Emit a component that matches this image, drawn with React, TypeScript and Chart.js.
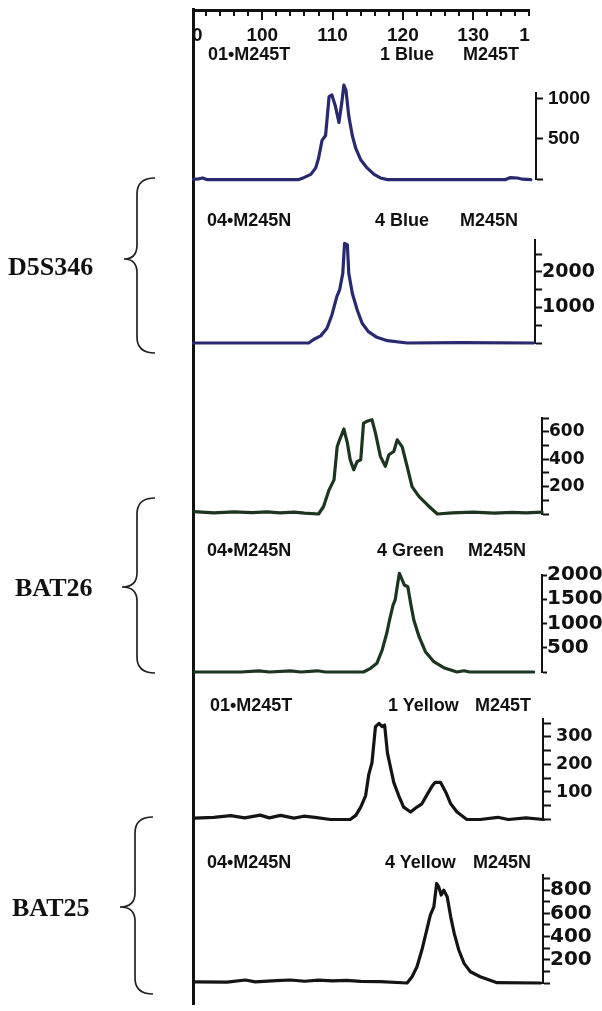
import React, { useEffect, useRef } from 'react';
import { Chart, registerables } from 'chart.js';

Chart.register(...registerables);

// ---------------- data ----------------
const sizeAxisMin = 90;
const sizeAxisMax = 140;
const sizeMinorStep = 2;
const sizeMajorStep = 10;

// D5S346 tumour (1 Blue)
const blueTumorSize = [90.2, 91.0, 91.5, 92.1, 105.2, 105.9, 106.9, 107.6, 108.0, 108.5, 109.0, 109.5, 109.9, 110.4, 110.9, 111.3, 111.6, 111.9, 112.3, 112.8, 113.3, 114.0, 114.9, 115.9, 116.8, 117.8, 134.6, 135.3, 136.3, 137.0, 138.2];
const blueTumorRfu = [5, 10, 20, 0, 0, 24, 64, 144, 263, 483, 543, 1022, 1042, 902, 703, 942, 1162, 1102, 782, 543, 383, 243, 144, 64, 20, 0, 0, 25, 20, 5, 0];

// D5S346 normal (4 Blue)
const blueNormalSize = [90.2, 106.6, 107.3, 108.3, 109.2, 109.9, 110.6, 111.0, 111.45, 111.7, 112.1, 112.3, 112.8, 113.5, 114.2, 115.1, 116.3, 117.8, 120.6, 128.0, 138.6];
const blueNormalRfu = [0, 0, 100, 200, 414, 790, 1305, 1493, 1963, 2808, 2760, 1963, 1400, 930, 555, 318, 160, 65, 0, 10, 0];

// BAT26 tumour (green)
const greenTumorSize = [90.3, 93.1, 96.0, 98.5, 100.7, 102.5, 104.5, 106.0, 108.0, 108.7, 109.5, 110.2, 110.65, 111.0, 111.6, 112.1, 112.5, 113.0, 113.5, 114.0, 114.4, 114.9, 115.6, 116.1, 116.8, 117.5, 118.0, 118.7, 119.2, 119.9, 120.6, 121.3, 122.3, 123.5, 124.9, 127.0, 130.0, 133.0, 135.5, 137.5, 139.8];
const greenTumorRfu = [18, 8, 15, 10, 16, 8, 14, 6, 0, 53, 176, 249, 490, 541, 620, 518, 395, 322, 383, 395, 663, 676, 688, 590, 420, 347, 432, 456, 541, 490, 347, 200, 127, 66, 0, 8, 14, 6, 12, 8, 14];

// BAT26 normal (4 Green)
const greenNormalSize = [90.3, 97.0, 99.5, 101.0, 104.0, 105.5, 107.8, 109.0, 114.4, 115.4, 116.3, 117.05, 117.7, 118.1, 118.6, 118.9, 119.3, 119.5, 119.9, 120.2, 120.7, 121.1, 121.55, 122.3, 123.2, 124.4, 125.8, 127.7, 128.7, 129.5, 138.6];
const greenNormalRfu = [0, 0, 25, 0, 25, 0, 25, 0, 0, 76, 179, 454, 798, 1072, 1381, 1485, 1862, 2035, 1897, 1794, 1759, 1416, 1072, 728, 419, 212, 89, 0, 25, 0, 0];

// BAT25 tumour (1 Yellow)
const yellowTumorSize = [90.3, 93.1, 95.5, 97.5, 99.7, 101.0, 102.6, 104.5, 105.9, 107.5, 109.7, 112.5, 113.3, 114.0, 114.7, 115.15, 115.6, 116.1, 116.6, 117.05, 117.4, 117.8, 118.2, 118.7, 119.4, 120.1, 121.1, 122.0, 122.7, 123.5, 124.2, 124.6, 125.35, 126.1, 126.8, 127.7, 129.1, 131.0, 133.5, 135.0, 137.5, 140.0];
const yellowTumorRfu = [5, 8, 14, 6, 16, 6, 15, 5, 12, 8, 0, 0, 15, 45, 87, 164, 206, 337, 349, 337, 343, 242, 194, 135, 87, 45, 27, 45, 57, 93, 123, 135, 135, 99, 57, 27, 0, 0, 8, 0, 6, 0];

// BAT25 normal (4 Yellow)
const yellowNormalSize = [90.3, 95.0, 97.6, 99.0, 102.0, 104.0, 106.0, 108.0, 110.0, 112.0, 114.0, 116.8, 120.6, 121.3, 122.0, 122.7, 123.5, 123.9, 124.4, 124.8, 125.1, 125.45, 125.8, 126.3, 126.8, 127.3, 127.95, 128.7, 129.6, 131.0, 133.4, 139.6];
const yellowNormalRfu = [10, 8, 26, 10, 20, 26, 15, 24, 18, 22, 14, 11, 0, 54, 140, 284, 484, 585, 656, 857, 828, 757, 800, 742, 570, 427, 284, 169, 97, 54, 3, 0];

const markerNames = ['D5S346', 'BAT26', 'BAT25'];

// ---------------- layout / style ----------------
const PAGE_W = 602;
const PAGE_H = 1011;
const X0 = 192;
const PX_PER_BP = 7.03;
const BLUE = '#28296e';
const GREEN = '#1c351e';
const BLACK = '#141414';
const INK = '#111';
const SANS = "'Liberation Sans', Arial, Helvetica, sans-serif";
const DEJAVU = "'DejaVu Sans', 'Liberation Sans', sans-serif";

type PanelCfg = {
  xs: number[];
  ys: number[];
  color: string;
  top: number;
  base: number;
  yMax: number;
  minorStep: number;
  majorStep: number;
  axisX: number;
  fontFamily: string;
  fontSize: number;
  tickLen: number;
  labelPad: number;
  header?: { texts: string[]; xs: number[]; y: number };
};

const panels: PanelCfg[] = [
  { xs: blueTumorSize, ys: blueTumorRfu, color: BLUE, top: 93, base: 182, yMax: 1066, minorStep: 500, majorStep: 500, axisX: 536, fontFamily: SANS, fontSize: 19, tickLen: 7, labelPad: 5,
    header: { texts: ['01•M245T', '1 Blue', 'M245T'], xs: [208, 380, 463], y: 54 } },
  { xs: blueNormalSize, ys: blueNormalRfu, color: BLUE, top: 240, base: 343, yMax: 2900, minorStep: 500, majorStep: 1000, axisX: 535, fontFamily: DEJAVU, fontSize: 19, tickLen: 7, labelPad: 0,
    header: { texts: ['04•M245N', '4 Blue', 'M245N'], xs: [207, 375, 460], y: 220 } },
  { xs: greenTumorSize, ys: greenTumorRfu, color: GREEN, top: 418, base: 514, yMax: 700, minorStep: 100, majorStep: 200, axisX: 542, fontFamily: DEJAVU, fontSize: 17, tickLen: 7, labelPad: 0 },
  { xs: greenNormalSize, ys: greenNormalRfu, color: GREEN, top: 575, base: 672, yMax: 2000, minorStep: 500, majorStep: 500, axisX: 542, fontFamily: DEJAVU, fontSize: 20, tickLen: 5, labelPad: 0,
    header: { texts: ['04•M245N', '4 Green', 'M245N'], xs: [207, 377, 468], y: 550 } },
  { xs: yellowTumorSize, ys: yellowTumorRfu, color: BLACK, top: 719, base: 821, yMax: 365, minorStep: 50, majorStep: 100, axisX: 543, fontFamily: DEJAVU, fontSize: 17.5, tickLen: 8, labelPad: 5,
    header: { texts: ['01•M245T', '1 Yellow', 'M245T'], xs: [210, 388, 475], y: 705 } },
  { xs: yellowNormalSize, ys: yellowNormalRfu, color: BLACK, top: 875, base: 983, yMax: 930, minorStep: 100, majorStep: 200, axisX: 543, fontFamily: DEJAVU, fontSize: 20, tickLen: 7, labelPad: 0,
    header: { texts: ['04•M245N', '4 Yellow', 'M245N'], xs: [207, 385, 473], y: 862 } },
];

const markerLayout = [
  { labelX: 8, labelY: 267, tipX: 124, midX: 137, endX: 155, yTop: 178, yTip: 259, yBot: 353 },
  { labelX: 15, labelY: 588, tipX: 122, midX: 137, endX: 155, yTop: 498, yTip: 587, yBot: 673 },
  { labelX: 12, labelY: 908, tipX: 120, midX: 135, endX: 153, yTop: 817, yTip: 907, yBot: 994 },
];

function bracePath(b: { tipX: number; midX: number; endX: number; yTop: number; yTip: number; yBot: number }) {
  const r = 16;
  const r2 = 14;
  return [
    `M ${b.endX} ${b.yTop}`,
    `Q ${b.midX} ${b.yTop} ${b.midX} ${b.yTop + r}`,
    `L ${b.midX} ${b.yTip - r2}`,
    `Q ${b.midX} ${b.yTip} ${b.tipX} ${b.yTip}`,
    `Q ${b.midX} ${b.yTip} ${b.midX} ${b.yTip + r2}`,
    `L ${b.midX} ${b.yBot - r}`,
    `Q ${b.midX} ${b.yBot} ${b.endX} ${b.yBot}`,
  ].join(' ');
}

function SizeAxis() {
  const ref = useRef<HTMLCanvasElement | null>(null);
  const canvasLeft = 150;
  const W = 452;
  const H = 50;
  useEffect(() => {
    const canvas = ref.current;
    if (!canvas) return;
    const areaRight = X0 + (sizeAxisMax - sizeAxisMin) * PX_PER_BP;
    const chart = new Chart(canvas, {
      type: 'scatter',
      data: { datasets: [] },
      options: {
        responsive: false,
        animation: false,
        layout: { padding: { left: X0 - canvasLeft, right: canvasLeft + W - areaRight, top: 10, bottom: 4 } },
        plugins: { legend: { display: false }, tooltip: { enabled: false } },
        scales: {
          x: {
            type: 'linear',
            position: 'bottom',
            min: sizeAxisMin,
            max: sizeAxisMax,
            afterFit: (s: any) => { s.height = 30; },
            afterBuildTicks: (s: any) => {
              const t = [];
              for (let v = sizeAxisMin; v <= sizeAxisMax; v += sizeMinorStep) t.push({ value: v });
              s.ticks = t;
            },
            ticks: {
              autoSkip: false,
              maxRotation: 0,
              minRotation: 0,
              padding: 4,
              color: INK,
              font: { family: SANS, size: 19, weight: 'bold' },
              callback: (v: any) => {
                const n = Number(v);
                if (n % sizeMajorStep !== 0) return '';
                if (n === sizeAxisMax) return '1\u2003\u2003';
                return String(n);
              },
            },
            grid: {
              display: true,
              drawOnChartArea: true,
              drawTicks: true,
              color: INK,
              lineWidth: 2,
              tickLength: 4,
              tickWidth: 2,
              tickColor: (ctx: any) => (ctx.tick && Number(ctx.tick.value) % sizeMajorStep === 0 ? INK : 'rgba(0,0,0,0)'),
            },
            border: { display: false },
          },
          xTop: {
            type: 'linear',
            position: 'top',
            min: sizeAxisMin,
            max: sizeAxisMax,
            ticks: { display: false },
            grid: { display: true, drawOnChartArea: false, drawTicks: false },
            border: { display: true, color: INK, width: 3 },
          },
          y: { display: false, min: 0, max: 1 },
        },
      } as any,
    });
    return () => chart.destroy();
  }, []);
  return (
    <div style={{ position: 'absolute', left: X0, top: 0, width: 338, height: H, overflow: 'hidden' }}>
      <canvas ref={ref} width={W} height={H} style={{ position: 'absolute', left: canvasLeft - X0, top: 0, width: W, height: H }} />
    </div>
  );
}

function PanelChart({ p }: { p: PanelCfg }) {
  const ref = useRef<HTMLCanvasElement | null>(null);
  const padTop = 28;
  const padBottom = 14;
  const width = PAGE_W - X0;
  const height = p.base - p.top + padTop + padBottom;
  useEffect(() => {
    const canvas = ref.current;
    if (!canvas) return;
    const xMax = sizeAxisMin + (p.axisX - X0) / PX_PER_BP;
    const chart = new Chart(canvas, {
      type: 'line',
      data: {
        datasets: [
          {
            data: p.xs.map((x, i) => ({ x, y: p.ys[i] })),
            borderColor: p.color,
            borderWidth: 3.2,
            pointRadius: 0,
            tension: 0,
            fill: false,
            clip: false,
            borderJoinStyle: 'round',
            borderCapStyle: 'round',
          },
        ],
      },
      options: {
        responsive: false,
        animation: false,
        layout: { padding: { top: padTop, bottom: padBottom, left: 0, right: 0 } },
        plugins: { legend: { display: false }, tooltip: { enabled: false } },
        scales: {
          x: { type: 'linear', display: false, min: sizeAxisMin, max: xMax },
          y: {
            type: 'linear',
            position: 'right',
            min: 0,
            max: p.yMax,
            afterFit: (s: any) => { s.width = PAGE_W - p.axisX; },
            afterBuildTicks: (s: any) => {
              const t = [];
              for (let v = 0; v <= p.yMax; v += p.minorStep) t.push({ value: v });
              s.ticks = t;
            },
            ticks: {
              autoSkip: false,
              padding: p.labelPad,
              color: INK,
              font: { family: p.fontFamily, size: p.fontSize, weight: 'bold' },
              callback: (v: any) => {
                const n = Number(v);
                return n !== 0 && n % p.majorStep === 0 ? String(n) : '';
              },
            },
            grid: { display: true, drawOnChartArea: false, drawTicks: true, tickLength: p.tickLen, tickWidth: 2, tickColor: INK },
            border: { display: true, color: INK, width: 2 },
          },
        },
      } as any,
    });
    return () => chart.destroy();
  }, [p]);
  return (
    <canvas
      ref={ref}
      width={width}
      height={height}
      style={{ position: 'absolute', left: X0, top: p.top - padTop, width, height }}
    />
  );
}

export default function App() {
  return (
    <div style={{ position: 'absolute', left: 0, top: 0, width: PAGE_W, height: PAGE_H, overflow: 'hidden', background: '#fff' }}>
      <div style={{ position: 'absolute', left: X0, top: 8, width: 3, height: 997, background: INK }} />
      <SizeAxis />
      {panels.map((p, i) => (
        <PanelChart key={i} p={p} />
      ))}
      {panels.map((p, i) =>
        p.header
          ? p.header.texts.map((t, j) => (
              <div
                key={`h${i}-${j}`}
                style={{
                  position: 'absolute',
                  left: p.header!.xs[j],
                  top: p.header!.y - 10,
                  height: 20,
                  lineHeight: '20px',
                  fontFamily: SANS,
                  fontWeight: 'bold',
                  fontSize: 18,
                  color: INK,
                  whiteSpace: 'nowrap',
                }}
              >
                {t}
              </div>
            ))
          : null
      )}
      <svg width={PAGE_W} height={PAGE_H} style={{ position: 'absolute', left: 0, top: 0 }}>
        {markerLayout.map((b, i) => (
          <path key={i} d={bracePath(b)} fill="none" stroke="#222" strokeWidth={1.7} />
        ))}
      </svg>
      {markerLayout.map((b, i) => (
        <div
          key={`m${i}`}
          style={{
            position: 'absolute',
            left: b.labelX,
            top: b.labelY - 15,
            height: 30,
            lineHeight: '30px',
            fontFamily: "'Liberation Serif', 'Times New Roman', serif",
            fontWeight: 'bold',
            fontSize: 26,
            color: INK,
            whiteSpace: 'nowrap',
          }}
        >
          {markerNames[i]}
        </div>
      ))}
    </div>
  );
}
